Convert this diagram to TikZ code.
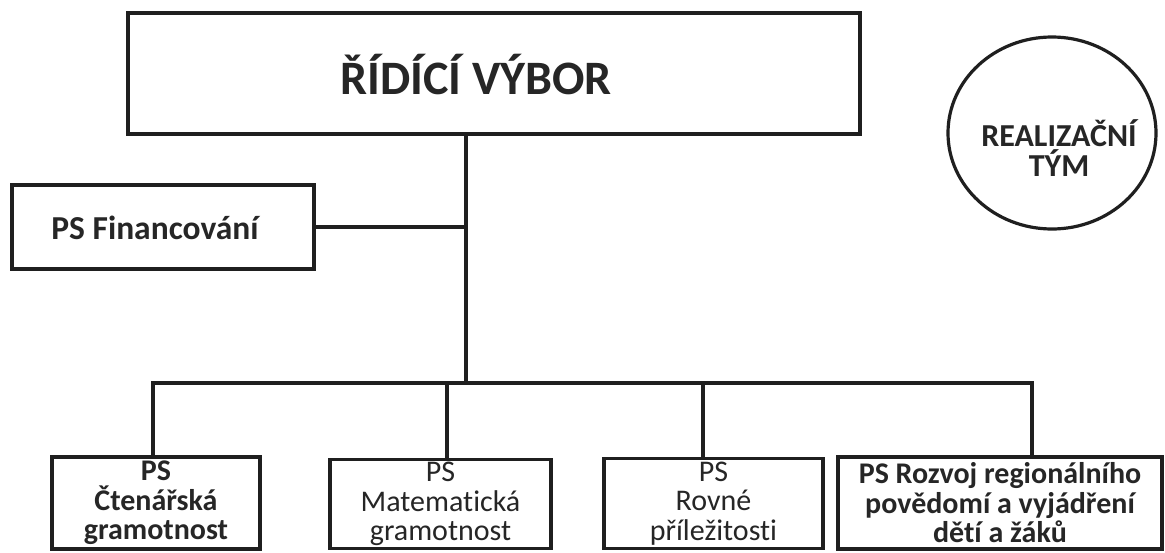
\documentclass[tikz,border=0pt]{standalone}
\usepackage{fontspec}
\setmainfont{Carlito}[Ligatures=NoCommon]
\usetikzlibrary{shapes.geometric}
\tikzset{
  frame/.style={draw=black!88, line width=3.6pt, rectangle, inner sep=0pt, align=center},
  conn/.style={draw=black!88, line width=3.4pt},
  boldtxt/.style={font=\fontsize{30}{29.5}\selectfont\bfseries},
  regtxt/.style={font=\fontsize{30}{29.5}\selectfont},
}
\begin{document}
\begin{tikzpicture}[x=1pt,y=-1pt]
\useasboundingbox[fill=white] (0,0) rectangle (1165,552);
% top box
\node[frame, minimum width=732, minimum height=121] (rv) at (494,73.5) {};
\node[anchor=base, font=\fontsize{48}{52}\selectfont\bfseries, text=black!85] (rvt) at (476,94) {ŘÍDÍCÍ VÝBOR};
% financing box
\node[frame, minimum width=302, minimum height=84] (fin) at (163,227) {};
\node[font=\fontsize{33.5}{34}\selectfont\bfseries, text=black!85] (fint) at (155,228) {PS Financování};
% circle
\node[draw=black!88, line width=3.2pt, ellipse, minimum width=208, minimum height=192, inner sep=0pt] (rt) at (1052,133) {};
\node[align=center, font=\fontsize{32}{30}\selectfont\bfseries, text=black!85] (rtt) at (1059,148) {REALIZAČNÍ\\TÝM};
% bottom boxes
\node[frame, boldtxt, text=black!85, minimum width=208, minimum height=92] (b1) at (156,503) {PS\\Čtenářská\\gramotnost};
\node[frame, regtxt, text=black!85, minimum width=221, minimum height=89] (b2) at (440.5,504) {PS\\Matematická\\gramotnost};
\node[frame, regtxt, text=black!85, minimum width=219, minimum height=90] (b3) at (713.5,503.5) {PS\\Rovné\\příležitosti};
\node[frame, boldtxt, text=black!85, minimum width=324, minimum height=92] (b4) at (1000,503) {PS Rozvoj regionálního\\povědomí a vyjádření\\dětí a žáků};
% trunk
\coordinate (bus) at (466,383);
\draw[conn] (rv.south -| bus) -- (bus);
\draw[conn] (fin.east) -- (fin.east -| bus);
\draw[conn, line join=miter] ([xshift=-3]b1.north) |- (bus) -| ([xshift=32]b4.north);
\draw[conn] ([xshift=6.5]b2.north) -- ([xshift=6.5]b2.north |- bus);
\draw[conn] ([xshift=-10.5]b3.north) -- ([xshift=-10.5]b3.north |- bus);
\end{tikzpicture}
\end{document}
